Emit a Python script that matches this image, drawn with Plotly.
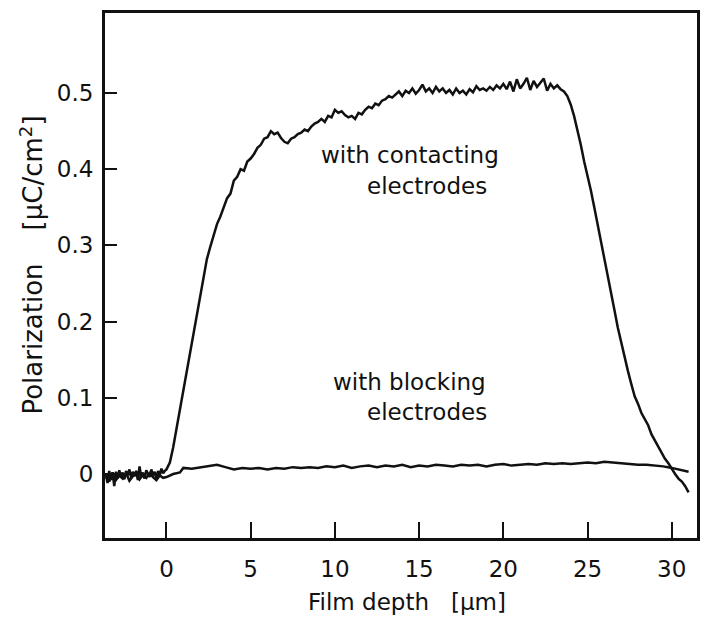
import plotly.graph_objects as go

# Contacting electrodes curve (film depth in um, polarization in uC/cm^2)
contact_x = [-3.6, -3.5, -3.4, -3.3, -3.2, -3.1, -3.0, -2.9, -2.8, -2.7, -2.6, -2.5, -2.4, -2.3, -2.2, -2.1,
             -2.0, -1.9, -1.8, -1.7, -1.6, -1.5, -1.4, -1.3, -1.2, -1.1, -1.0, -0.9, -0.8, -0.7, -0.6, -0.5,
             -0.4, -0.3, -0.2, -0.1, 0.0, 0.2, 0.4, 0.6, 0.8, 1.0, 1.2, 1.4, 1.6, 1.8, 2.0, 2.2, 2.4, 2.6,
             2.8, 3.0, 3.2, 3.4, 3.6, 3.8, 4.0, 4.2, 4.4, 4.6, 4.8, 5.0, 5.2, 5.4, 5.6, 5.8, 6.0, 6.2, 6.4,
             6.6, 6.8, 7.0, 7.2, 7.4, 7.6, 7.8, 8.0, 8.2, 8.4, 8.6, 8.8, 9.0, 9.2, 9.4, 9.6, 9.8, 10.0, 10.2,
             10.4, 10.6, 10.8, 11.0, 11.2, 11.4, 11.6, 11.8, 12.0, 12.2, 12.4, 12.6, 12.8, 13.0, 13.2, 13.4,
             13.6, 13.8, 14.0, 14.2, 14.4, 14.6, 14.8, 15.0, 15.2, 15.4, 15.6, 15.8, 16.0, 16.2, 16.4, 16.6,
             16.8, 17.0, 17.2, 17.4, 17.6, 17.8, 18.0, 18.2, 18.4, 18.6, 18.8, 19.0, 19.2, 19.4, 19.6, 19.8,
             20.0, 20.2, 20.4, 20.6, 20.8, 21.0, 21.2, 21.4, 21.6, 21.8, 22.0, 22.2, 22.4, 22.6, 22.8, 23.0,
             23.2, 23.4, 23.6, 23.8, 24.0, 24.2, 24.4, 24.6, 24.8, 25.0, 25.2, 25.4, 25.6, 25.8, 26.0, 26.2,
             26.4, 26.6, 26.8, 27.0, 27.2, 27.4, 27.6, 27.8, 28.0, 28.2, 28.4, 28.6, 28.8, 29.0, 29.2, 29.4,
             29.6, 29.8, 30.0, 30.2, 30.4, 30.6, 30.8, 31.0]
contact_y = [0.000, -0.012, 0.004, -0.008, 0.002, -0.016, 0.003, -0.006, 0.005, -0.004, 0.002, -0.007, 0.004,
             -0.002, 0.006, -0.005, 0.003, -0.003, 0.004, -0.008, 0.010, -0.004, 0.002, -0.006, 0.005, 0.000,
             -0.004, 0.006, -0.002, 0.003, -0.005, 0.004, -0.002, 0.007, 0.001, 0.004, 0.006, 0.015, 0.035,
             0.060, 0.085, 0.110, 0.135, 0.160, 0.185, 0.208, 0.232, 0.258, 0.282, 0.298, 0.312, 0.328, 0.338,
             0.350, 0.362, 0.368, 0.385, 0.390, 0.400, 0.398, 0.410, 0.414, 0.420, 0.428, 0.432, 0.440, 0.442,
             0.450, 0.446, 0.448, 0.441, 0.436, 0.434, 0.440, 0.442, 0.446, 0.448, 0.452, 0.450, 0.456, 0.460,
             0.462, 0.466, 0.462, 0.470, 0.468, 0.478, 0.474, 0.476, 0.471, 0.468, 0.470, 0.466, 0.474, 0.472,
             0.478, 0.482, 0.480, 0.486, 0.484, 0.490, 0.492, 0.496, 0.494, 0.498, 0.502, 0.496, 0.503, 0.500,
             0.506, 0.499, 0.504, 0.511, 0.502, 0.506, 0.500, 0.508, 0.502, 0.506, 0.500, 0.504, 0.498, 0.506,
             0.500, 0.503, 0.498, 0.505, 0.501, 0.509, 0.504, 0.506, 0.503, 0.508, 0.504, 0.510, 0.506, 0.512,
             0.505, 0.515, 0.502, 0.518, 0.506, 0.512, 0.520, 0.504, 0.516, 0.508, 0.514, 0.519, 0.503, 0.512,
             0.506, 0.510, 0.505, 0.502, 0.496, 0.485, 0.470, 0.452, 0.432, 0.410, 0.392, 0.372, 0.350, 0.328,
             0.305, 0.285, 0.262, 0.238, 0.215, 0.192, 0.172, 0.152, 0.135, 0.118, 0.102, 0.092, 0.080, 0.072,
             0.064, 0.052, 0.044, 0.036, 0.028, 0.020, 0.014, 0.006, 0.000, -0.006, -0.010, -0.016, -0.024]

# Blocking electrodes curve
block_x = [-3.6, -3.4, -3.2, -3.0, -2.8, -2.6, -2.4, -2.2, -2.0, -1.8, -1.6, -1.4, -1.2, -1.0, -0.8, -0.6,
           -0.4, -0.2, 0.0, 0.4, 0.8, 1.0, 1.5, 2.0, 2.5, 3.0, 3.5, 4.0, 4.5, 5.0, 5.5, 6.0, 6.5, 7.0, 7.5,
           8.0, 8.5, 9.0, 9.5, 10.0, 10.5, 11.0, 11.5, 12.0, 12.5, 13.0, 13.5, 14.0, 14.5, 15.0, 15.5, 16.0,
           16.5, 17.0, 17.5, 18.0, 18.5, 19.0, 19.5, 20.0, 20.5, 21.0, 21.5, 22.0, 22.5, 23.0, 23.5, 24.0,
           24.5, 25.0, 25.5, 26.0, 26.5, 27.0, 27.5, 28.0, 28.5, 29.0, 29.5, 30.0, 30.5, 31.0]
block_y = [-0.004, -0.010, 0.002, -0.008, -0.002, -0.006, 0.001, -0.009, -0.003, 0.002, -0.007, -0.001,
           -0.005, 0.001, -0.004, -0.008, -0.002, -0.005, -0.004, 0.000, 0.002, 0.008, 0.007, 0.009, 0.010,
           0.012, 0.009, 0.006, 0.008, 0.007, 0.008, 0.006, 0.008, 0.007, 0.009, 0.008, 0.009, 0.008, 0.010,
           0.009, 0.011, 0.008, 0.010, 0.011, 0.009, 0.011, 0.010, 0.012, 0.009, 0.011, 0.010, 0.012, 0.011,
           0.010, 0.012, 0.011, 0.012, 0.010, 0.012, 0.013, 0.011, 0.012, 0.013, 0.012, 0.014, 0.013, 0.014,
           0.013, 0.014, 0.015, 0.014, 0.016, 0.015, 0.014, 0.013, 0.012, 0.012, 0.011, 0.010, 0.008, 0.005,
           0.003]

x_ticks = [0, 5, 10, 15, 20, 25, 30]
y_ticks = [0, 0.1, 0.2, 0.3, 0.4, 0.5]
y_tick_text = ["0", "0.1", "0.2", "0.3", "0.4", "0.5"]

FONT = "DejaVu Sans"
INK = "#111111"

fig = go.Figure()
fig.add_trace(go.Scatter(x=contact_x, y=contact_y, mode="lines",
                         line=dict(color=INK, width=2.5), showlegend=False))
fig.add_trace(go.Scatter(x=block_x, y=block_y, mode="lines",
                         line=dict(color=INK, width=2.5), showlegend=False))

ann_font = dict(family=FONT, size=23, color=INK)
for txt, xx, yy in [("with contacting", 14.45, 0.419), ("electrodes", 15.45, 0.378),
                    ("with blocking", 14.45, 0.121), ("electrodes", 15.45, 0.081)]:
    fig.add_annotation(x=xx, y=yy, xref="x", yref="y", text=txt, showarrow=False,
                       xanchor="center", yanchor="middle", font=ann_font)

fig.add_annotation(x=0.51, y=-0.121, xref="paper", yref="paper",
                   text="Film depth &nbsp;&nbsp;[µm]", showarrow=False,
                   xanchor="center", yanchor="middle", font=dict(family=FONT, size=23, color=INK))
fig.add_annotation(x=-0.124, y=0.52, xref="paper", yref="paper",
                   text="Polarization &nbsp;&nbsp;&nbsp;[µC/cm<sup>2</sup>]", showarrow=False, textangle=-90,
                   xanchor="center", yanchor="middle", font=dict(family=FONT, size=26, color=INK))

fig.update_xaxes(range=[-3.65, 31.5], tickvals=x_ticks, ticks="inside", ticklen=16, tickwidth=2,
                 tickcolor=INK, showline=True, linewidth=3, linecolor=INK, mirror=True,
                 showgrid=False, zeroline=False, ticklabelstandoff=8,
                 tickfont=dict(family=FONT, size=23, color=INK))
fig.update_yaxes(range=[-0.084, 0.605], tickvals=y_ticks, ticktext=y_tick_text, ticks="inside",
                 ticklen=12, tickwidth=2, tickcolor=INK, showline=True, linewidth=3, linecolor=INK,
                 mirror=True, showgrid=False, zeroline=False, ticklabelstandoff=4,
                 tickfont=dict(family=FONT, size=23, color=INK))

fig.update_layout(width=704, height=617, margin=dict(l=105, r=4, t=13, b=79),
                  paper_bgcolor="white", plot_bgcolor="white")

fig.write_html("out.html")
